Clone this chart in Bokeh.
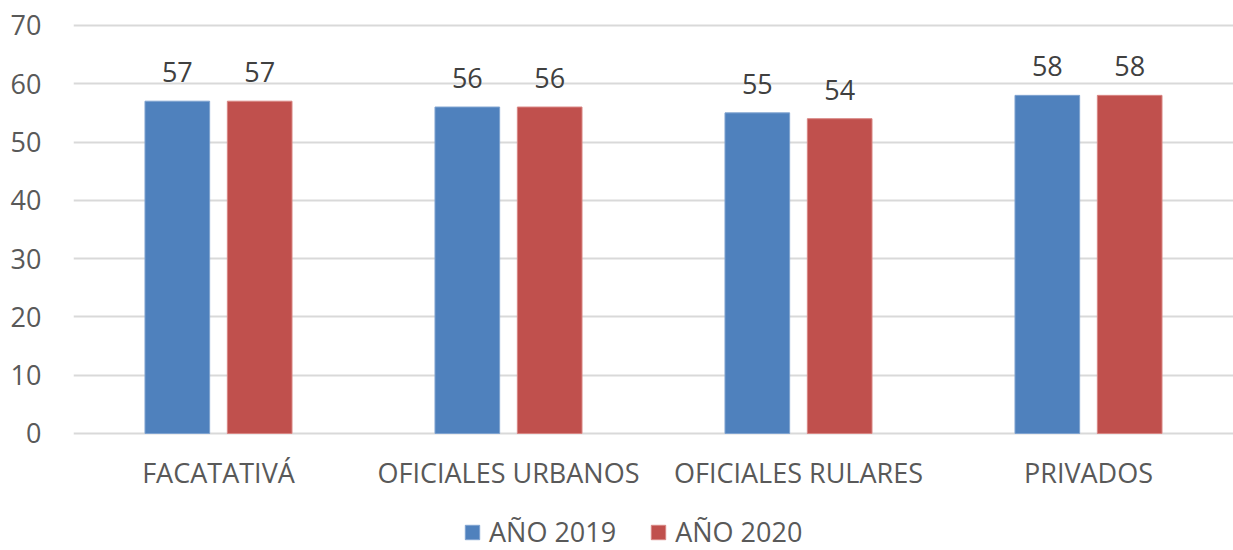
from bokeh.plotting import figure
from bokeh.models import ColumnDataSource, Legend, LegendItem, FixedTicker, LabelSet
from bokeh.core.properties import value
from bokeh.transform import dodge
from bokeh.embed import file_html
from bokeh.resources import INLINE

categories = ["FACATATIVÁ", "OFICIALES URBANOS", "OFICIALES RULARES", "PRIVADOS"]
anio_2019 = [57, 56, 55, 58]
anio_2020 = [57, 56, 54, 58]
series_names = ["AÑO 2019", "AÑO 2020"]
y_ticks = [0, 10, 20, 30, 40, 50, 60, 70]

BLUE = "#4F81BD"
RED = "#C0504D"
FONT = "Open Sans"
TXT = "#595959"

src = ColumnDataSource(dict(
    cat=categories,
    y19=anio_2019,
    y20=anio_2020,
    l19=[str(v) for v in anio_2019],
    l20=[str(v) for v in anio_2020],
))

# frame extends below zero so the category labels and legend sit inside it
p = figure(x_range=categories, y_range=(-20.07, 70.5),
           frame_width=1160, frame_height=528,
           min_border_left=73, min_border_top=22, min_border_right=0, min_border_bottom=0,
           output_backend="svg", toolbar_location=None,
           background_fill_color=None, border_fill_color="white", outline_line_color=None)

off = 0.142
bw = 0.223
r1 = p.vbar(x=dodge("cat", -off, range=p.x_range), top="y19", width=bw, source=src,
            fill_color=BLUE, line_color="#7FA3D0", line_width=1)
r2 = p.vbar(x=dodge("cat", off, range=p.x_range), top="y20", width=bw, source=src,
            fill_color=RED, line_color="#D88683", line_width=1)

for col, lab, o in (("y19", "l19", -off), ("y20", "l20", off)):
    ls = LabelSet(x=dodge("cat", o, range=p.x_range), y=col, text=lab, source=src,
                  text_align="center", text_baseline="bottom", y_offset=19,
                  text_font=value(FONT), text_font_size=value("27px"),
                  text_color=value("#404040"))
    p.add_layout(ls)

# category labels under the zero line
cat_labels = LabelSet(x="cat", y=0, text="cat", source=src,
                      text_align="center", text_baseline="middle", y_offset=-39,
                      text_font=value(FONT), text_font_size=value("27px"),
                      text_color=value(TXT))
p.add_layout(cat_labels)

p.xaxis.visible = False
p.xgrid.grid_line_color = None
p.ygrid.grid_line_color = "#D9D9D9"
p.ygrid.grid_line_width = 2
p.yaxis.ticker = FixedTicker(ticks=y_ticks)

ax = p.yaxis[0]
ax.axis_line_color = None
ax.major_tick_line_color = None
ax.minor_tick_line_color = None
ax.major_label_text_font = FONT
ax.major_label_text_font_size = "27px"
ax.major_label_text_color = TXT
ax.major_label_standoff = 26

legend = Legend(items=[LegendItem(label=series_names[0], renderers=[r1]),
                       LegendItem(label=series_names[1], renderers=[r2])],
                orientation="horizontal", location=(390, 0),
                label_text_font=FONT, label_text_font_size="27px", label_text_color=TXT,
                label_height=22, glyph_width=18, glyph_height=18, spacing=33, label_standoff=8,
                border_line_color=None, background_fill_alpha=0, margin=0, padding=0)
p.add_layout(legend, "center")

open("out.html", "w").write(file_html(p, INLINE))
